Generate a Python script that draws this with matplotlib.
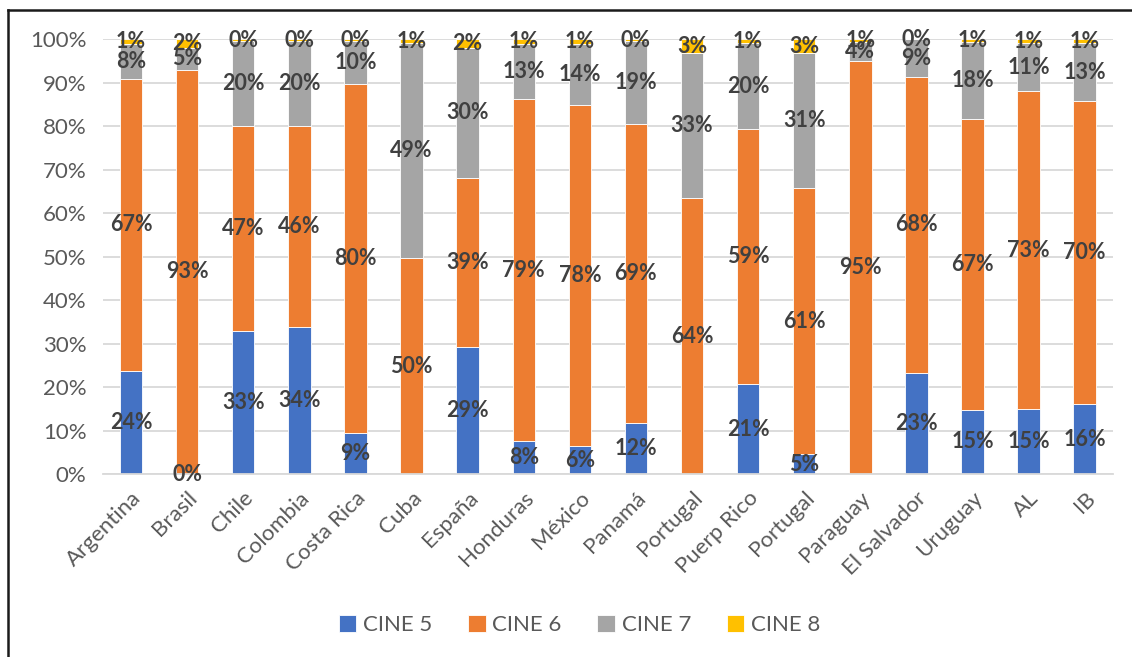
import numpy as np
import matplotlib
matplotlib.use("Agg")
import matplotlib.pyplot as plt
from matplotlib.lines import Line2D

plt.rcParams["font.family"] = ["Lato", "DejaVu Sans"]

paises = ["Argentina", "Brasil", "Chile", "Colombia", "Costa Rica", "Cuba", "España",
          "Honduras", "México", "Panamá", "Portugal", "Puerp Rico", "Portugal",
          "Paraguay", "El Salvador", "Uruguay", "AL", "IB"]
# porcentajes por nivel CINE (nan = sin dato)
cine5 = [23.7, 0, 32.9, 33.8, 9.4, np.nan, 29.3, 7.6, 6.4, 11.7, np.nan, 20.7, 4.6,
         np.nan, 23.3, 14.8, 14.9, 16.1]
cine6 = [67.2, 93.0, 47.1, 46.2, 80.3, 49.7, 38.9, 78.6, 78.4, 68.9, 63.5, 58.6, 61.1,
         95.1, 68.1, 66.9, 73.2, 69.7]
cine7 = [8.1, 5.0, 19.6, 19.6, 9.9, 49.4, 29.8, 12.8, 14.2, 19.0, 33.4, 19.8, 31.2,
         4.2, 8.6, 17.6, 11.0, 13.3]
cine8 = [1.0, 2.0, 0.4, 0.4, 0.4, 0.9, 2.0, 1.0, 1.0, 0.4, 3.1, 0.9, 3.1, 0.7, 0.0,
         0.7, 0.9, 0.9]

series = [("CINE 5", cine5, "#4472C4"), ("CINE 6", cine6, "#ED7D31"),
          ("CINE 7", cine7, "#A5A5A5"), ("CINE 8", cine8, "#FFC000")]

fig = plt.figure(figsize=(11.32, 6.57), dpi=100)
ax = fig.add_axes([0.091, 0.2785, 0.892, 0.6615])
x = np.arange(len(paises))
base = np.zeros(len(paises))
for nombre, vals, col in series:
    v = np.array(vals, dtype=float)
    h = np.nan_to_num(v) / 100
    ax.bar(x, h, 0.4, bottom=base, color=col, label=nombre,
           edgecolor="white", linewidth=0.6, zorder=2)
    for i in range(len(x)):
        if np.isnan(v[i]):
            continue
        ax.text(x[i], base[i] + h[i] / 2, f"{v[i]:.0f}%", ha="center", va="center",
                fontsize=15.5, fontweight="bold", color="#404040", zorder=3)
    base += h

ax.set_xlim(-0.5, len(paises) - 0.5)
ax.set_ylim(0, 1)
ticks = np.arange(0, 1.01, 0.1)
ax.set_yticks(ticks)
ax.set_yticklabels([f"{int(round(t*100))}%" for t in ticks])
ax.set_xticks(x)
ax.set_xticklabels(paises, rotation=45, ha="right", rotation_mode="anchor")
ax.tick_params(length=0, labelsize=16, labelcolor="#595959")
ax.tick_params(axis="y", pad=12)
ax.tick_params(axis="x", pad=10)
ax.grid(axis="y", color="#d9d9d9", linewidth=1.3, zorder=0)
for s in ["top", "right", "left"]:
    ax.spines[s].set_visible(False)
ax.spines["bottom"].set_color("#d9d9d9")
ax.spines["bottom"].set_linewidth(1.3)

fig.legend(loc="center", bbox_to_anchor=(0.512, 0.049), ncol=4, frameon=False,
           fontsize=16, labelcolor="#595959", handlelength=0.8, handleheight=0.8,
           handletextpad=0.3, columnspacing=1.6)

# marco
fig.add_artist(Line2D([8/1132, 1], [1 - 10/657] * 2, color="#1a1a1a", lw=1.8))
fig.add_artist(Line2D([8/1132] * 2, [0, 1 - 10/657], color="#1a1a1a", lw=1.8))

fig.savefig("out.png", dpi=100)
